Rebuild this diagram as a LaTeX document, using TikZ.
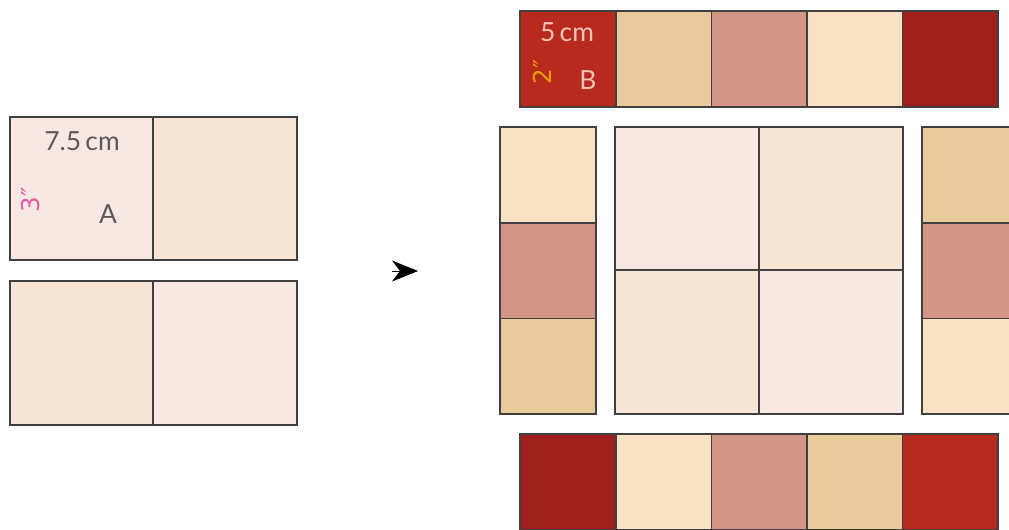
\documentclass[tikz,border=0pt]{standalone}
\usepackage{fontspec}
\setmainfont{Lato}
\setsansfont{Lato}
\newfontfamily\markfont{DejaVu Sans}
\usetikzlibrary{arrows.meta}
\definecolor{pinkcell}{HTML}{F7E8E4}
\definecolor{peachcell}{HTML}{F7E5D5}
\definecolor{redcell}{HTML}{B92A1E}
\definecolor{tancell}{HTML}{E8CA9C}
\definecolor{rosecell}{HTML}{D39585}
\definecolor{creamcell}{HTML}{F9E2C3}
\definecolor{darkredcell}{HTML}{9E1F1B}
\definecolor{labelgray}{HTML}{5A5A5A}
\definecolor{labelpink}{HTML}{F2C4B8}
\definecolor{markpink}{HTML}{E85AA8}
\definecolor{markgold}{HTML}{E8A000}

\begin{document}
\begin{tikzpicture}
[x=0.02cm, y=-0.02cm,
  celldecorate/.style={shape=rectangle,draw=black!75,line width=0.9pt,inner sep=0pt},
  bigcell/.style={celldecorate,minimum width=2.87cm,minimum height=2.87cm},
  smallcell/.style={celldecorate,minimum width=1.912cm,minimum height=1.912cm},
  labeldecorate/.style={font=\fontsize{15}{17}\selectfont,text=labelgray,inner sep=0pt},
  markdecorate/.style={font=\markfont\fontsize{14}{16}\selectfont,inner sep=0pt,rotate=90}]
\useasboundingbox (0,0) rectangle (1009,529);
\clip (0,0) rectangle (1009,529);
%% big cells, left pair and centre square
\foreach \nodename/\x/\y/\fillcolor in {a1/81.5/188.5/pinkcell,
  a2/225/188.5/peachcell, a3/81.5/353/peachcell, a4/225/353/pinkcell,
  c1/687/198.5/pinkcell, c2/831/198.5/peachcell, c3/687/342/peachcell,
  c4/831/342/pinkcell}
{
  \node (\nodename) at (\x,\y) [bigcell,fill=\fillcolor] {};
}
%% small cells, strips and columns
\foreach \nodename/\x/\y/\fillcolor in {t1/568/59/redcell,
  t2/663.6/59/tancell, t3/759.2/59/rosecell, t4/854.8/59/creamcell,
  t5/950.4/59/darkredcell, b1/568/482/darkredcell, b2/663.6/482/creamcell,
  b3/759.2/482/rosecell, b4/854.8/482/tancell, b5/950.4/482/redcell,
  l1/548/175/creamcell, l2/548/270.7/rosecell, l3/548/366.4/tancell,
  r1/970/175/tancell, r2/970/270.7/rosecell, r3/970/366.4/creamcell}
{
  \node (\nodename) at (\x,\y) [smallcell,fill=\fillcolor] {};
}
%% labels
\node (lengthA) at (82,141) [labeldecorate] {7.5\,cm};
\node (letterA) at (108,214) [labeldecorate] {A};
\node (markA) at (31,200) [markdecorate,text=markpink] {3″};
\node (lengthB) at (567,32) [labeldecorate,text=labelpink] {5\,cm};
\node (letterB) at (588,80) [labeldecorate,text=labelpink] {B};
\node (markB) at (542,72) [markdecorate,text=markgold] {2″};
%% arrow
\coordinate (arrowtail) at (392,271);
\coordinate (arrowtip) at (418,271);
\draw [-{Stealth[length=0.52cm,width=0.42cm,inset=0.16cm]},line width=0.4pt]
  (arrowtail) -- (arrowtip);
\end{tikzpicture}
\end{document}
